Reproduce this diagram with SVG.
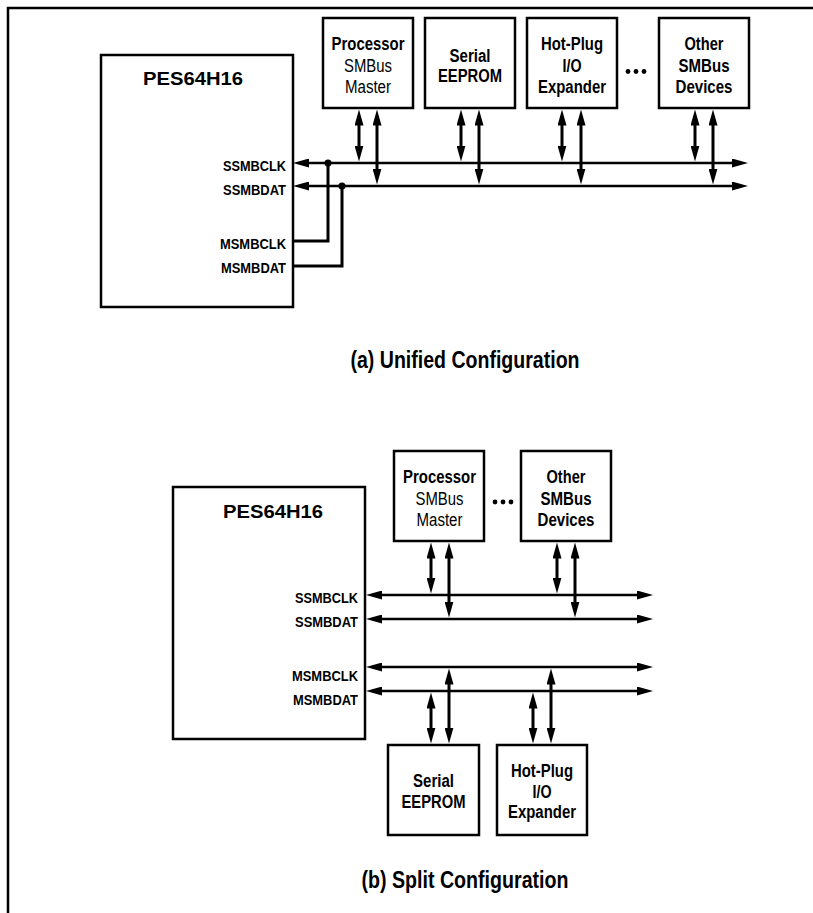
<svg xmlns="http://www.w3.org/2000/svg" width="813" height="913" viewBox="0 0 813 913">
<style>
.b{fill:#fff;stroke:#000;stroke-width:2.5}
.t{font-family:"Liberation Sans",Arial,Helvetica,sans-serif;font-weight:bold;fill:#000;font-size:17.5px}
.r{font-weight:normal}
.h{font-size:19px}
.s{font-size:14px}
.c{font-size:23px}
.w{fill:none;stroke:#000;stroke-width:3}
.a{fill:none;stroke:#000;stroke-width:3;marker-start:url(#ah);marker-end:url(#ah)}
.bus{fill:none;stroke:#000;stroke-width:2.6;marker-start:url(#ah);marker-end:url(#ah)}
</style>
<defs>
<marker id="ah" viewBox="0 0 16 9" refX="6" refY="4.5" markerWidth="16" markerHeight="9" markerUnits="userSpaceOnUse" orient="auto-start-reverse"><path d="M0,0 L16,4.5 L0,9 z" fill="#000"/></marker>
</defs>
<rect width="813" height="913" fill="#fff"/>
<path d="M8,913 V8 H813" fill="none" stroke="#000" stroke-width="2.5"/>

<!-- (a) Unified configuration -->
<g id="pes-a">
<rect class="b" x="101" y="55" width="192" height="252"/>
<text class="t h" x="193" y="85" text-anchor="middle" textLength="100" lengthAdjust="spacingAndGlyphs">PES64H16</text>
<text class="t s" x="286" y="171" text-anchor="end" textLength="63" lengthAdjust="spacingAndGlyphs">SSMBCLK</text>
<text class="t s" x="286" y="195" text-anchor="end" textLength="63" lengthAdjust="spacingAndGlyphs">SSMBDAT</text>
<text class="t s" x="286" y="249" text-anchor="end" textLength="66" lengthAdjust="spacingAndGlyphs">MSMBCLK</text>
<text class="t s" x="286" y="273" text-anchor="end" textLength="65" lengthAdjust="spacingAndGlyphs">MSMBDAT</text>
</g>
<g id="proc-a">
<rect class="b" x="323" y="18" width="90" height="90"/>
<text class="t" x="368" y="50" text-anchor="middle" textLength="73" lengthAdjust="spacingAndGlyphs">Processor</text>
<text class="t r" x="368" y="71.5" text-anchor="middle" textLength="48" lengthAdjust="spacingAndGlyphs">SMBus</text>
<text class="t r" x="368" y="92.5" text-anchor="middle" textLength="46" lengthAdjust="spacingAndGlyphs">Master</text>
</g>
<g id="eeprom-a">
<rect class="b" x="425" y="18" width="90" height="90"/>
<text class="t" x="470" y="61.5" text-anchor="middle" textLength="41" lengthAdjust="spacingAndGlyphs">Serial</text>
<text class="t" x="470" y="82" text-anchor="middle" textLength="64" lengthAdjust="spacingAndGlyphs">EEPROM</text>
</g>
<g id="hotplug-a">
<rect class="b" x="527" y="18" width="90" height="90"/>
<text class="t" x="572" y="50" text-anchor="middle" textLength="62" lengthAdjust="spacingAndGlyphs">Hot-Plug</text>
<text class="t" x="572" y="71.5" text-anchor="middle" textLength="19" lengthAdjust="spacingAndGlyphs">I/O</text>
<text class="t" x="572" y="92.5" text-anchor="middle" textLength="68" lengthAdjust="spacingAndGlyphs">Expander</text>
</g>
<g id="dots-a">
<circle cx="628" cy="71.5" r="2.4"/><circle cx="636" cy="71.5" r="2.4"/><circle cx="644" cy="71.5" r="2.4"/>
</g>
<g id="other-a">
<rect class="b" x="659" y="18" width="90" height="90"/>
<text class="t" x="704" y="50" text-anchor="middle" textLength="39" lengthAdjust="spacingAndGlyphs">Other</text>
<text class="t" x="704" y="71.5" text-anchor="middle" textLength="51" lengthAdjust="spacingAndGlyphs">SMBus</text>
<text class="t" x="704" y="92.5" text-anchor="middle" textLength="57" lengthAdjust="spacingAndGlyphs">Devices</text>
</g>
<g id="connectors-a">
<line class="bus" x1="303" y1="163" x2="738" y2="163"/>
<line class="bus" x1="303" y1="186" x2="738" y2="186"/>
<path class="w" d="M293,241 H328 V163"/>
<path class="w" d="M293,266 H342 V186"/>
<circle cx="328" cy="163" r="3.6"/>
<circle cx="342" cy="186" r="3.6"/>
<line class="a" x1="359" y1="119.5" x2="359" y2="151.5"/>
<line class="a" x1="377" y1="119.5" x2="377" y2="174.5"/>
<line class="a" x1="461" y1="119.5" x2="461" y2="151.5"/>
<line class="a" x1="479" y1="119.5" x2="479" y2="174.5"/>
<line class="a" x1="562" y1="119.5" x2="562" y2="151.5"/>
<line class="a" x1="581" y1="119.5" x2="581" y2="174.5"/>
<line class="a" x1="695" y1="119.5" x2="695" y2="151.5"/>
<line class="a" x1="713" y1="119.5" x2="713" y2="174.5"/>
</g>
<text id="caption-a" class="t c" x="465" y="368" text-anchor="middle" textLength="229" lengthAdjust="spacingAndGlyphs">(a) Unified Configuration</text>

<!-- (b) Split configuration -->
<g id="pes-b">
<rect class="b" x="173" y="487" width="192" height="252"/>
<text class="t h" x="273" y="518" text-anchor="middle" textLength="100" lengthAdjust="spacingAndGlyphs">PES64H16</text>
<text class="t s" x="358" y="603" text-anchor="end" textLength="63" lengthAdjust="spacingAndGlyphs">SSMBCLK</text>
<text class="t s" x="358" y="627" text-anchor="end" textLength="63" lengthAdjust="spacingAndGlyphs">SSMBDAT</text>
<text class="t s" x="358" y="681" text-anchor="end" textLength="66" lengthAdjust="spacingAndGlyphs">MSMBCLK</text>
<text class="t s" x="358" y="705" text-anchor="end" textLength="65" lengthAdjust="spacingAndGlyphs">MSMBDAT</text>
</g>
<g id="proc-b">
<rect class="b" x="394" y="451" width="90" height="90"/>
<text class="t" x="439.5" y="483" text-anchor="middle" textLength="73" lengthAdjust="spacingAndGlyphs">Processor</text>
<text class="t r" x="439.5" y="504.5" text-anchor="middle" textLength="48" lengthAdjust="spacingAndGlyphs">SMBus</text>
<text class="t r" x="439.5" y="525.5" text-anchor="middle" textLength="46" lengthAdjust="spacingAndGlyphs">Master</text>
</g>
<g id="dots-b">
<circle cx="495" cy="502" r="2.4"/><circle cx="503" cy="502" r="2.4"/><circle cx="511" cy="502" r="2.4"/>
</g>
<g id="other-b">
<rect class="b" x="521" y="451" width="90" height="90"/>
<text class="t" x="566" y="483" text-anchor="middle" textLength="39" lengthAdjust="spacingAndGlyphs">Other</text>
<text class="t" x="566" y="504.5" text-anchor="middle" textLength="51" lengthAdjust="spacingAndGlyphs">SMBus</text>
<text class="t" x="566" y="525.5" text-anchor="middle" textLength="57" lengthAdjust="spacingAndGlyphs">Devices</text>
</g>
<g id="eeprom-b">
<rect class="b" x="388" y="745" width="91" height="90"/>
<text class="t" x="433.5" y="787" text-anchor="middle" textLength="41" lengthAdjust="spacingAndGlyphs">Serial</text>
<text class="t" x="433.5" y="807.5" text-anchor="middle" textLength="64" lengthAdjust="spacingAndGlyphs">EEPROM</text>
</g>
<g id="hotplug-b">
<rect class="b" x="497" y="745" width="90" height="90"/>
<text class="t" x="542" y="776.5" text-anchor="middle" textLength="62" lengthAdjust="spacingAndGlyphs">Hot-Plug</text>
<text class="t" x="542" y="797.5" text-anchor="middle" textLength="19" lengthAdjust="spacingAndGlyphs">I/O</text>
<text class="t" x="542" y="818" text-anchor="middle" textLength="68" lengthAdjust="spacingAndGlyphs">Expander</text>
</g>
<g id="connectors-b">
<line class="bus" x1="376" y1="595" x2="643" y2="595"/>
<line class="bus" x1="376" y1="619" x2="643" y2="619"/>
<line class="bus" x1="376" y1="667" x2="643" y2="667"/>
<line class="bus" x1="376" y1="691" x2="643" y2="691"/>
<line class="a" x1="431" y1="552.5" x2="431" y2="583.5"/>
<line class="a" x1="449" y1="552.5" x2="449" y2="607.5"/>
<line class="a" x1="557" y1="552.5" x2="557" y2="583.5"/>
<line class="a" x1="575" y1="552.5" x2="575" y2="607.5"/>
<line class="a" x1="431" y1="702.5" x2="431" y2="733.5"/>
<line class="a" x1="449" y1="678.5" x2="449" y2="733.5"/>
<line class="a" x1="533" y1="702.5" x2="533" y2="733.5"/>
<line class="a" x1="551" y1="678.5" x2="551" y2="733.5"/>
</g>
<text id="caption-b" class="t c" x="465" y="888" text-anchor="middle" textLength="207" lengthAdjust="spacingAndGlyphs">(b) Split Configuration</text>
</svg>
